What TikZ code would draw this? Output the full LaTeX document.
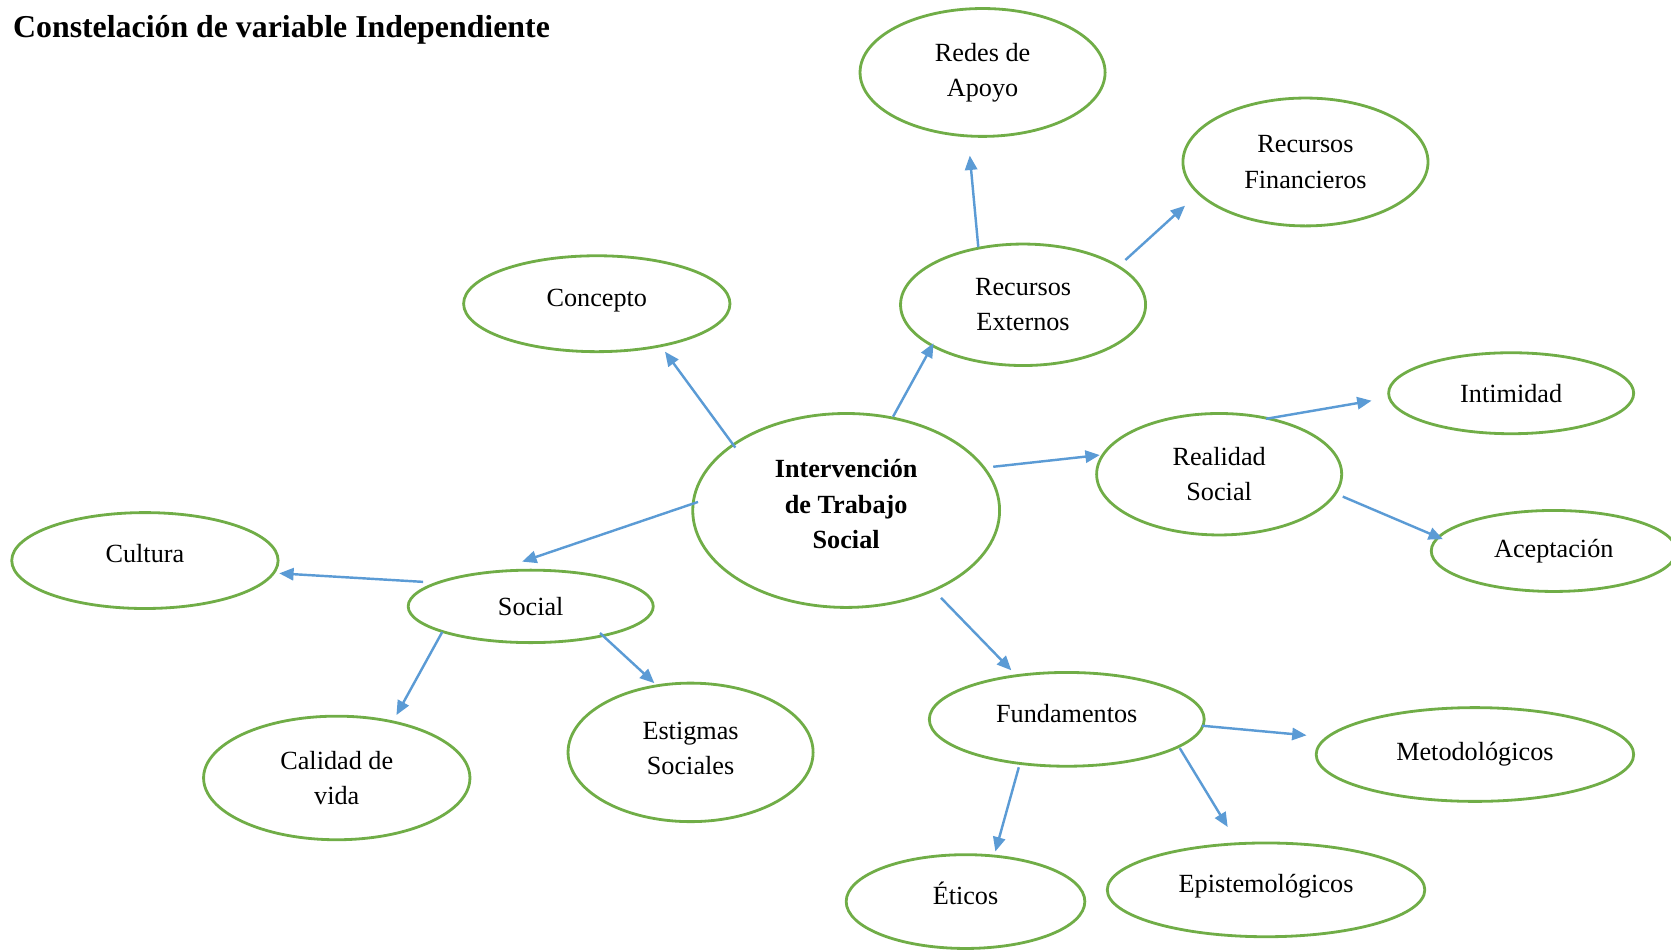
\documentclass[tikz,border=0pt]{standalone}
\usepackage{fontspec}
\setmainfont{Liberation Serif}
\usetikzlibrary{shapes.geometric,arrows.meta,calc}

\definecolor{ideagreen}{HTML}{70AD47}
\definecolor{arrowblue}{HTML}{5B9BD5}

\tikzset{
  idea/.style={ellipse, draw=ideagreen, line width=1.5pt, inner sep=0pt,
    align=center, font=\fontsize{14}{18.8}\selectfont},
  lift/.style={text depth=#1},
  arr/.style={draw=arrowblue, line width=1.3pt,
    -{Triangle[length=0.27cm,width=0.23cm,fill=arrowblue]}}
}

\begin{document}
\begin{tikzpicture}[x=0.02cm,y=-0.02cm]
    \useasboundingbox (0,0) rectangle (1568,891);
    \node[anchor=base west, inner sep=0pt, font=\fontsize{17}{20}\selectfont\bfseries] (title) at (12,35) {Constelación de variable Independiente};

    % centro
    \node[idea, lift=0.24cm, minimum width=5.76cm, minimum height=3.64cm, font=\fontsize{14}{18.8}\selectfont\bfseries] (int) at (794,479) {Intervención\\de Trabajo\\Social};

    % ramas
    \node[idea, lift=0.22cm, minimum width=5cm, minimum height=1.8cm] (con) at (560,285) {Concepto};
    \node[idea, minimum width=4.6cm, minimum height=2.28cm] (ext) at (960,286) {Recursos\\Externos};
    \node[idea, minimum width=4.6cm, minimum height=2.4cm] (redes) at (922,68) {Redes de\\Apoyo};
    \node[idea, minimum width=4.6cm, minimum height=2.4cm] (fin) at (1225,152) {Recursos\\Financieros};
    \node[idea, minimum width=4.6cm, minimum height=2.28cm] (real) at (1144,445) {Realidad\\Social};
    \node[idea, minimum width=4.6cm, minimum height=1.52cm] (intim) at (1418,369) {Intimidad};
    \node[idea, minimum width=4.6cm, minimum height=1.52cm] (acep) at (1458,517) {Aceptación};
    \node[idea, minimum width=4.6cm, minimum height=1.36cm] (soc) at (498,569) {Social};
    \node[idea, lift=0.28cm, minimum width=5cm, minimum height=1.8cm] (cul) at (136,526) {Cultura};
    \node[idea, minimum width=5cm, minimum height=2.32cm] (cal) at (316,730) {Calidad de\\vida};
    \node[idea, lift=0.16cm, minimum width=4.6cm, minimum height=2.6cm] (est) at (648,706) {Estigmas\\Sociales};
    \node[idea, lift=0.24cm, minimum width=5.16cm, minimum height=1.76cm] (fund) at (1001,675) {Fundamentos};
    \node[idea, minimum width=5.96cm, minimum height=1.76cm] (met) at (1384,708) {Metodológicos};
    \node[idea, lift=0.32cm, minimum width=4.48cm, minimum height=1.76cm] (eti) at (906,846) {Éticos};
    \node[idea, lift=0.26cm, minimum width=5.96cm, minimum height=1.76cm] (epi) at (1188,835) {Epistemológicos};

    % flechas
    \draw[arr] ($(int)+(-104,-59)$) -- ($(con)+(64,45)$);
    \draw[arr] ($(int)+(44,-88)$) -- ($(ext)+(-84,36)$);
    \draw[arr] ($(int)+(138,-41)$) -- ($(real)+(-112,-18)$);
    \draw[arr] ($(int)+(-139,-8)$) -- ($(soc)+(-8,-42)$);
    \draw[arr] ($(int)+(89,82)$) -- ($(fund)+(-52,-46)$);
    \draw[arr] ($(ext)+(-42,-54)$) -- ($(redes)+(-12,78)$);
    \draw[arr] ($(ext)+(96,-42)$) -- ($(fin)+(-113,41)$);
    \draw[arr] ($(real)+(44,-52)$) -- ($(intim)+(-131,7)$);
    \draw[arr] ($(real)+(116,21)$) -- ($(acep)+(-104,-11)$);
    \draw[arr] ($(soc)+(-101,-23)$) -- ($(cul)+(126,12)$);
    \draw[arr] ($(soc)+(-83,24)$) -- ($(cal)+(56,-59)$);
    \draw[arr] ($(soc)+(65,25)$) -- ($(est)+(-34,-65)$);
    \draw[arr] ($(fund)+(127,6)$) -- ($(met)+(-158,-18)$);
    \draw[arr] ($(fund)+(-45,45)$) -- ($(eti)+(28,-47)$);
    \draw[arr] ($(fund)+(106,27)$) -- ($(epi)+(-36,-59)$);
\end{tikzpicture}
\end{document}
